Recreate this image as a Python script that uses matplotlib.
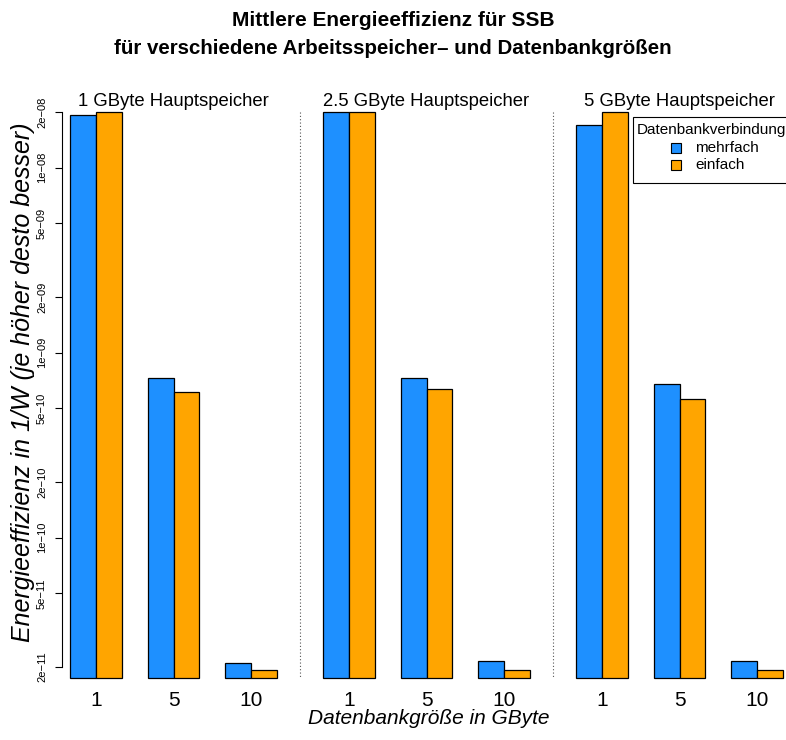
import matplotlib
matplotlib.use("Agg")
import matplotlib.pyplot as plt
from matplotlib.lines import Line2D
from matplotlib.patches import Rectangle
from matplotlib.ticker import FixedLocator, FixedFormatter, NullLocator

plt.rcParams['font.family'] = ['Liberation Sans', 'DejaVu Sans']

# Data: mean energy efficiency (1/W) per main memory size and database size
memory_titles = ["1 GByte Hauptspeicher", "2.5 GByte Hauptspeicher", "5 GByte Hauptspeicher"]
db_sizes = ["1", "5", "10"]
series_names = ["mehrfach", "einfach"]
mehrfach = [
    [1.93e-08, 7.33e-10, 2.11e-11],   # 1 GB
    [2.00e-08, 7.33e-10, 2.16e-11],   # 2.5 GB
    [1.70e-08, 6.78e-10, 2.15e-11],   # 5 GB
]
einfach = [
    [2.00e-08, 6.15e-10, 1.93e-11],
    [2.00e-08, 6.34e-10, 1.93e-11],
    [2.00e-08, 5.62e-10, 1.92e-11],
]
ytick_values = [2e-11, 5e-11, 1e-10, 2e-10, 5e-10, 1e-09, 2e-09, 5e-09, 1e-08, 2e-08]
ytick_labels = ["2e\u221211", "5e\u221211", "1e\u221210", "2e\u221210", "5e\u221210",
                "1e\u221209", "2e\u221209", "5e\u221209", "1e\u221208", "2e\u221208"]

colors = ["#1E90FF", "#FFA500"]

W, H = 786, 740
fig = plt.figure(figsize=(W / 100, H / 100), dpi=100)


def fx(px):
    return px / W


def fy(py):
    return 1 - py / H


panel_left = [61.7, 314.7, 567.7]
panel_w = 223.6
top_px, bot_px = 112, 678
ylim = (1.744e-11, 2.0e-08)

axes = []
for p in range(3):
    ax = fig.add_axes([fx(panel_left[p]), fy(bot_px), fx(panel_w), (bot_px - top_px) / H])
    axes.append(ax)
    ax.set_yscale('log')
    ax.set_ylim(*ylim)
    ax.set_xlim(0.68, 9.32)
    for s in range(3):
        base = 1 + 3 * s
        for k, vals in enumerate([mehrfach, einfach]):
            ax.bar(base + k, vals[p][s] - ylim[0], bottom=ylim[0], width=1.0,
                   align='edge', color=colors[k], edgecolor='black',
                   linewidth=0.9, clip_on=False)
    ax.set_xticks([2, 5, 8])
    ax.set_xticklabels(db_sizes, fontsize=15)
    ax.tick_params(axis='x', length=0, pad=9)
    for sp in ['top', 'right', 'bottom']:
        ax.spines[sp].set_visible(False)
    ax.yaxis.set_minor_locator(NullLocator())
    if p == 0:
        ax.yaxis.set_major_locator(FixedLocator(ytick_values))
        ax.yaxis.set_major_formatter(FixedFormatter(ytick_labels))
        ax.spines['left'].set_bounds(ytick_values[0], ytick_values[-1])
        ax.spines['left'].set_linewidth(0.8)
        ax.tick_params(axis='y', length=5, width=0.8, pad=7, labelsize=8)
        for lab in ax.get_yticklabels():
            lab.set_rotation(90)
            lab.set_rotation_mode('anchor')
            lab.set_ha('center')
            lab.set_va('baseline')
    else:
        ax.spines['left'].set_visible(False)
        ax.set_yticks([])
    ax.patch.set_visible(False)
    fig.text(fx(panel_left[p] + panel_w / 2), fy(101), memory_titles[p],
             ha='center', va='center', fontsize=13.3)

# dotted separators between panels
for xs in [300, 553]:
    fig.add_artist(Line2D([fx(xs), fx(xs)], [fy(112), fy(678)], color='#555555',
                          linestyle=(0, (1, 2)), linewidth=0.8))

# titles and axis labels
fig.text(0.5, fy(20), "Mittlere Energieeffizienz für SSB", ha='center', va='center',
         fontsize=15, fontweight='bold')
fig.text(0.5, fy(48), "für verschiedene Arbeitsspeicher\u2013 und Datenbankgrößen",
         ha='center', va='center', fontsize=14.8, fontweight='bold')
fig.text(fx(23), fy(382), "Energieeffizienz in 1/W (je höher desto besser)",
         rotation=90, ha='center', va='center', fontsize=18, style='italic')
fig.text(fx(429), fy(719), "Datenbankgröße in GByte", ha='center', va='center',
         fontsize=15, style='italic')

# legend
fig.add_artist(Rectangle((fx(633), fy(183)), fx(200), (183 - 117) / H,
                         facecolor='white', edgecolor='black', linewidth=0.8,
                         transform=fig.transFigure))
fig.text(fx(637), fy(130), "Datenbankverbindung", ha='left', va='center', fontsize=11)
for k, (name, yc) in enumerate(zip(series_names, [148, 165])):
    fig.add_artist(Rectangle((fx(671), fy(yc + 5)), fx(10), 10 / H,
                             facecolor=colors[k], edgecolor='black', linewidth=0.8,
                             transform=fig.transFigure))
    fig.text(fx(695), fy(yc), name, ha='left', va='center', fontsize=11)

fig.savefig("out.png", dpi=100)
